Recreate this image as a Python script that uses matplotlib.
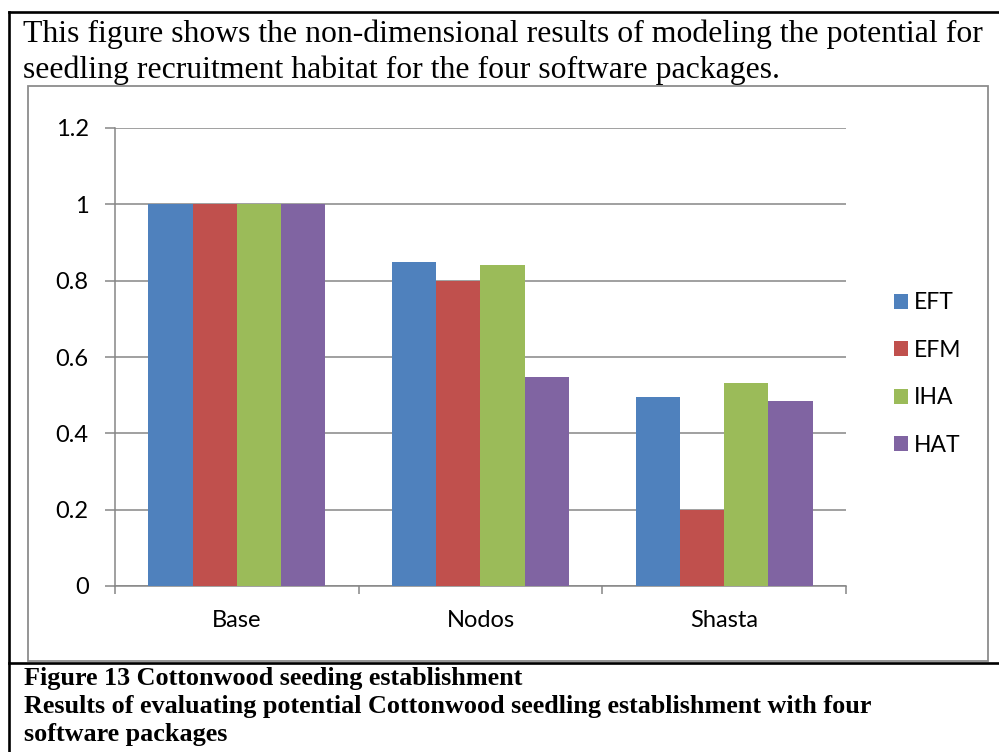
import matplotlib
matplotlib.use("Agg")
import matplotlib.pyplot as plt
from matplotlib.patches import Rectangle
from matplotlib.lines import Line2D
import numpy as np

categories = ["Base", "Nodos", "Shasta"]
series_names = ["EFT", "EFM", "IHA", "HAT"]
EFT = [1.0, 0.849, 0.495]
EFM = [1.0, 0.80, 0.20]
IHA = [1.0, 0.841, 0.531]
HAT = [1.0, 0.548, 0.485]
yticks = [0, 0.2, 0.4, 0.6, 0.8, 1.0, 1.2]
ytick_labels = ["0", "0.2", "0.4", "0.6", "0.8", "1", "1.2"]
colors = ["#4F81BD", "#C0504D", "#9BBB59", "#8064A2"]

top_text = ["This figure shows the non-dimensional results of modeling the potential for",
            "seedling recruitment habitat for the four software packages."]
caption = ["Figure 13 Cottonwood seeding establishment",
           "Results of evaluating potential Cottonwood seedling establishment with four",
           "software packages"]

W, H = 999, 752
fig = plt.figure(figsize=(W / 100, H / 100), dpi=100)
fig.patch.set_facecolor("white")

def fx(px):
    return px / W

def fy(py):
    return 1 - py / H

# outer black frame lines
black_lw = 1.9
fig.add_artist(Line2D([fx(9), fx(999)], [fy(12), fy(12)], color="black", lw=black_lw))
fig.add_artist(Line2D([fx(9), fx(9)], [fy(12), fy(752)], color="black", lw=black_lw))
fig.add_artist(Line2D([fx(9), fx(999)], [fy(663), fy(663)], color="black", lw=black_lw))

# gray chart box
fig.add_artist(Rectangle((fx(28), fy(661)), fx(988) - fx(28), fy(86) - fy(661),
                         transform=fig.transFigure, fill=False,
                         edgecolor="#8C8C8C", lw=1.3))

serif = ["Liberation Serif", "DejaVu Serif"]
fig.text(fx(23), fy(42), top_text[0], family=serif, fontsize=22.9, va="baseline", ha="left")
fig.text(fx(23), fy(78), top_text[1], family=serif, fontsize=22.9, va="baseline", ha="left")
for i, line in enumerate(caption):
    fig.text(fx(24), fy(685 + 28 * i), line, family=serif, fontsize=18.8,
             fontweight="bold", va="baseline", ha="left")

ax = fig.add_axes([fx(115), fy(586), fx(846) - fx(115), fy(128) - fy(586)])
sans = ["Lato", "DejaVu Sans"]
x = np.arange(len(categories))
w = 1 / 5.5
data = [EFT, EFM, IHA, HAT]
handles = []
for i, (vals, c, name) in enumerate(zip(data, colors, series_names)):
    b = ax.bar(x + (i - 1.5) * w, vals, width=w, color=c, label=name, zorder=3, linewidth=0)
    handles.append(b)

ax.set_xlim(-0.5, 2.5)
ax.set_ylim(0, 1.2)
ax.set_yticks(yticks)
ax.set_yticklabels(ytick_labels, family=sans, fontsize=17)
ax.yaxis.grid(True, color="#868686", lw=1.1, zorder=0)
ax.set_axisbelow(True)

ax.set_xticks([-0.5, 0.5, 1.5, 2.5])
ax.set_xticklabels([])
ax.set_xticks(x, minor=True)
ax.set_xticklabels(categories, minor=True, family=sans, fontsize=17)
ax.tick_params(axis="x", which="major", length=6, width=1.1, color="#868686", direction="out")
ax.tick_params(axis="x", which="minor", length=0, pad=17)
ax.tick_params(axis="y", length=7, width=1.1, color="#868686", direction="out", pad=12)

for s in ["top", "right"]:
    ax.spines[s].set_visible(False)
for s in ["left", "bottom"]:
    ax.spines[s].set_color("#868686")
    ax.spines[s].set_linewidth(1.1)

leg = ax.legend(handles=handles, labels=series_names, loc="center left",
                bbox_to_anchor=(fx(885), fy(374)), bbox_transform=fig.transFigure,
                frameon=False, prop={"family": "Lato", "size": 16.5},
                handlelength=0.62, handleheight=0.62, handletextpad=0.25,
                labelspacing=1.15, borderaxespad=0)

fig.savefig("out.png", dpi=100, facecolor="white")
